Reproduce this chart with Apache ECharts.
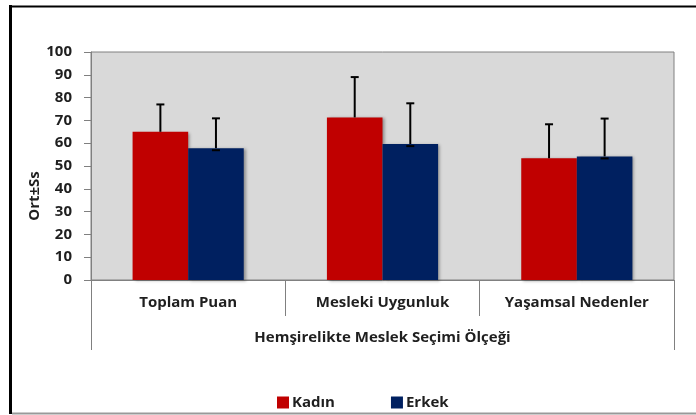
<!DOCTYPE html>
<html>
<head>
<meta charset="utf-8">
<script src="https://cdn.jsdelivr.net/npm/echarts@6/dist/echarts.min.js"></script>
<style>
  html, body { margin: 0; padding: 0; background: #fff; }
  #chart { width: 696px; height: 415px; }
</style>
</head>
<body>
<div id="chart"></div>
<script>
// olcek alt boyutlari
const categories = ['Toplam Puan', 'Mesleki Uygunluk', 'Yaşamsal Nedenler'];
const groupLabel = ['Hemşirelikte Meslek Seçimi Ölçeği'];
const kadinMean = [65.0, 71.3, 53.4];
const kadinSd = [12.0, 17.7, 14.9];
const erkekMean = [57.8, 59.6, 54.2];
const erkekSd = [13.1, 17.9, 16.6];
const yTicks = [0, 10, 20, 30, 40, 50, 60, 70, 80, 90, 100];

const FONT = 'Open Sans';
const TXT = '#1f1f1f';
const BAR_W = 0.286;

const chart = echarts.init(document.getElementById('chart'));

// side: -1 = kadin (left bar), 1 = erkek (right bar)
function errorBar(side, lowerCap) {
    return function (params, api) {
        const cat = api.value(0);
        const base = api.coord([cat, api.value(1)]);
        const top = api.coord([cat, api.value(1) + api.value(2)]);
        const bw = api.size([1, 0])[0] * BAR_W;
        const x = base[0] + side * bw / 2;
        const cap = 4;
        const style = {stroke: '#000', lineWidth: 2};
        const children = [
            {type: 'line', shape: {x1: x, y1: base[1], x2: x, y2: top[1]}, style: style},
            {type: 'line', shape: {x1: x - cap, y1: top[1], x2: x + cap, y2: top[1]}, style: style}
        ];
        if (lowerCap) {
            children.push({type: 'line', shape: {x1: x - cap, y1: base[1] + 2, x2: x + cap, y2: base[1] + 2}, style: style});
        }
        return {type: 'group', children: children};
    };
}

const barShadow = {shadowColor: 'rgba(0,0,0,0.35)', shadowBlur: 3, shadowOffsetX: 2, shadowOffsetY: 1};

chart.setOption({
    animation: false,
    textStyle: {fontFamily: FONT},
    grid: {
        left: 91, top: 52, right: 22, bottom: 135,
        show: true, backgroundColor: '#D9D9D9', borderColor: '#808080', borderWidth: 1
    },
    legend: {
        left: 272, top: 390,
        itemWidth: 12, itemHeight: 12, itemGap: 56,
        icon: 'rect',
        textStyle: {fontFamily: FONT, fontSize: 15, fontWeight: 'bold', color: TXT, padding: [0, 0, 0, -2]},
        data: ['Kadın', 'Erkek']
    },
    xAxis: [
        {
            type: 'category',
            data: categories,
            axisLine: {lineStyle: {color: '#808080', width: 1}},
            axisTick: {show: true, length: 36, lineStyle: {color: '#808080'}},
            axisLabel: {margin: 15, fontSize: 15, fontWeight: 'bold', color: TXT, fontFamily: FONT}
        },
        {
            type: 'category',
            data: groupLabel,
            position: 'bottom',
            axisLine: {show: false},
            axisTick: {show: true, length: 70, lineStyle: {color: '#808080'}},
            axisLabel: {margin: 50, fontSize: 15, fontWeight: 'bold', color: TXT, fontFamily: FONT}
        }
    ],
    yAxis: {
        type: 'value',
        min: yTicks[0], max: yTicks[yTicks.length - 1], interval: 10,
        axisLine: {show: true, lineStyle: {color: '#808080'}},
        axisTick: {show: true, length: 7, lineStyle: {color: '#808080'}},
        splitLine: {show: false},
        axisLabel: {margin: 19, fontSize: 15, fontWeight: 'bold', color: TXT, fontFamily: FONT}
    },
    series: [
        {
            name: 'Kadın', type: 'bar', data: kadinMean,
            barWidth: (BAR_W * 100) + '%', barGap: '0%',
            itemStyle: Object.assign({color: '#C00000'}, barShadow)
        },
        {
            name: 'Erkek', type: 'bar', data: erkekMean,
            barWidth: (BAR_W * 100) + '%', barGap: '0%',
            itemStyle: Object.assign({color: '#002060'}, barShadow)
        },
        {
            type: 'custom', z: 5,
            renderItem: errorBar(-1, false),
            encode: {x: 0, y: 1},
            data: kadinMean.map((v, i) => [i, v, kadinSd[i]])
        },
        {
            type: 'custom', z: 5,
            renderItem: errorBar(1, true),
            encode: {x: 0, y: 1},
            data: erkekMean.map((v, i) => [i, v, erkekSd[i]])
        }
    ],
    graphic: [
        {type: 'line', shape: {x1: 10.5, y1: 5, x2: 10.5, y2: 414}, style: {stroke: '#000', lineWidth: 3}},
        {type: 'line', shape: {x1: 9, y1: 6.5, x2: 696, y2: 6.5}, style: {stroke: '#000', lineWidth: 2}},
        {type: 'line', shape: {x1: 12, y1: 413.5, x2: 696, y2: 413.5}, style: {stroke: '#999', lineWidth: 2}},
        {
            type: 'text', x: 35, y: 196, rotation: Math.PI / 2,
            style: {
                text: 'Ort±Ss', fill: TXT, font: 'bold 15px "' + FONT + '"',
                align: 'center', verticalAlign: 'middle'
            }
        }
    ]
});
</script>
</body>
</html>
